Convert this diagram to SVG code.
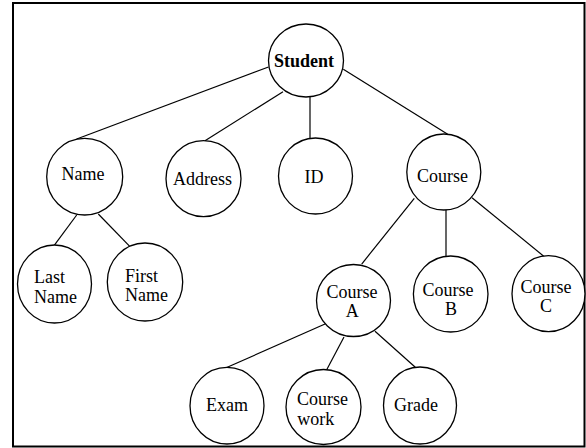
<svg xmlns="http://www.w3.org/2000/svg" width="586" height="448" viewBox="0 0 586 448">
<style>
.n ellipse{fill:#fff;stroke:#000;stroke-width:1.3}
.n text{font-family:"Liberation Serif","Times New Roman",serif;font-size:18px;fill:#000}
.m{text-anchor:middle}
#edges line{stroke:#000;stroke-width:1.2}
</style>
<rect x="0" y="0" width="586" height="448" fill="#fff"/>
<rect x="13" y="3" width="571.5" height="443.5" fill="none" stroke="#000" stroke-width="2"/>
<g id="edges">
<line x1="268.5" y1="67" x2="76.7" y2="139"/>
<line x1="283" y1="91.7" x2="205" y2="140.7"/>
<line x1="310" y1="97" x2="310" y2="138.3"/>
<line x1="343.3" y1="69.3" x2="447.7" y2="134.3"/>
<line x1="76.7" y1="215" x2="53.3" y2="246.7"/>
<line x1="98.3" y1="214" x2="130" y2="246.7"/>
<line x1="414.3" y1="198.3" x2="361.7" y2="264"/>
<line x1="446" y1="210" x2="446" y2="256.5"/>
<line x1="472" y1="197.7" x2="544.3" y2="256.7"/>
<line x1="325" y1="324" x2="226.7" y2="367.5"/>
<line x1="344" y1="337" x2="326.7" y2="369.7"/>
<line x1="375" y1="331.3" x2="415.3" y2="367.3"/>
</g>
<g id="student" class="n"><ellipse cx="306" cy="60.5" rx="37.5" ry="36.5"/><text class="m" x="304" y="66.7" font-weight="bold">Student</text></g>
<g id="name" class="n"><ellipse cx="84.7" cy="176.7" rx="38" ry="38.3"/><text class="m" x="83" y="180">Name</text></g>
<g id="address" class="n"><ellipse cx="203.5" cy="178.7" rx="37.5" ry="38"/><text class="m" x="202.5" y="185">Address</text></g>
<g id="id" class="n"><ellipse cx="315.5" cy="176" rx="37" ry="38"/><text class="m" x="314" y="183.3">ID</text></g>
<g id="course" class="n"><ellipse cx="443.8" cy="172" rx="37" ry="38"/><text class="m" x="442.5" y="181.7">Course</text></g>
<g id="lastname" class="n"><ellipse cx="54.5" cy="284" rx="37" ry="39"/><text x="34" y="283.3">Last</text><text x="34" y="303.3">Name</text></g>
<g id="firstname" class="n"><ellipse cx="145" cy="282" rx="37.7" ry="39"/><text x="125" y="281.7">First</text><text x="125" y="300.7">Name</text></g>
<g id="coursea" class="n"><ellipse cx="353.5" cy="300.5" rx="37" ry="36"/><text class="m" x="352" y="298">Course</text><text class="m" x="352.3" y="317.3">A</text></g>
<g id="courseb" class="n"><ellipse cx="450.7" cy="294" rx="37.3" ry="38"/><text class="m" x="448" y="296.3">Course</text><text class="m" x="451" y="314.7">B</text></g>
<g id="coursec" class="n"><ellipse cx="548.5" cy="293.7" rx="36.5" ry="38"/><text class="m" x="546" y="293">Course</text><text class="m" x="546" y="312.3">C</text></g>
<g id="exam" class="n"><ellipse cx="227" cy="405.7" rx="37" ry="38.3"/><text class="m" x="227" y="410.7">Exam</text></g>
<g id="coursework" class="n"><ellipse cx="323.5" cy="407" rx="37.5" ry="37.5"/><text x="297" y="404.7">Course</text><text x="297.3" y="424.7">work</text></g>
<g id="grade" class="n"><ellipse cx="420" cy="405.5" rx="36.5" ry="38.5"/><text class="m" x="416" y="410.7">Grade</text></g>
</svg>
